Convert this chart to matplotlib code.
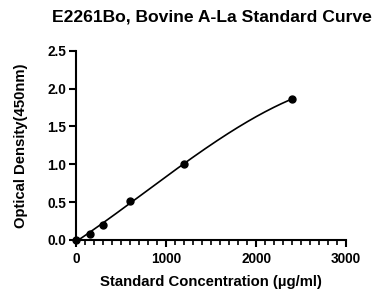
import numpy as np
import matplotlib
matplotlib.use("Agg")
import matplotlib.pyplot as plt
from matplotlib.ticker import MultipleLocator

plt.rcParams['font.family'] = ['Liberation Sans', 'DejaVu Sans']

concentration = [0, 150, 300, 600, 1200, 2400]
od_values = [0.0, 0.075, 0.20, 0.52, 1.0, 1.865]
title = "E2261Bo, Bovine A-La Standard Curve"
xlabel = "Standard Concentration (µg/ml)"
ylabel = "Optical Density(450nm)"

fig = plt.figure(figsize=(3.73, 2.89), dpi=100)
ax = fig.add_axes([0.204, 0.170, 0.724, 0.654])

coef = np.polyfit(concentration, od_values, 3)
xs = np.linspace(0, max(concentration), 200)
ax.plot(xs, np.polyval(coef, xs), color='black', lw=1.2, zorder=2)
ax.plot(concentration, od_values, 'o', color='black', ms=5, zorder=3, clip_on=False)

ax.set_xlim(0, 3000)
ax.set_ylim(0, 2.5)
ax.xaxis.set_major_locator(MultipleLocator(1000))
ax.xaxis.set_minor_locator(MultipleLocator(100))
ax.yaxis.set_major_locator(MultipleLocator(0.5))
ax.yaxis.set_major_formatter(matplotlib.ticker.FormatStrFormatter('%.1f'))

for s in ['top', 'right']:
    ax.spines[s].set_visible(False)
for s in ['left', 'bottom']:
    ax.spines[s].set_linewidth(1.5)

ax.tick_params(axis='both', which='major', length=5, width=1.5, labelsize=9.8, pad=2)
ax.tick_params(axis='x', which='major', pad=4)
ax.tick_params(axis='x', which='minor', length=3.5, width=1.2)
for lab in ax.get_xticklabels() + ax.get_yticklabels():
    lab.set_fontweight('bold')

ax.set_xlabel(xlabel, fontsize=10.7, fontweight='bold', labelpad=6)
ax.set_ylabel(ylabel, fontsize=10.7, fontweight='bold', labelpad=14)
fig.text(0.567, 0.94, title, ha='center', va='center', fontsize=12.6, fontweight='bold')

fig.savefig("out.png", dpi=100)
